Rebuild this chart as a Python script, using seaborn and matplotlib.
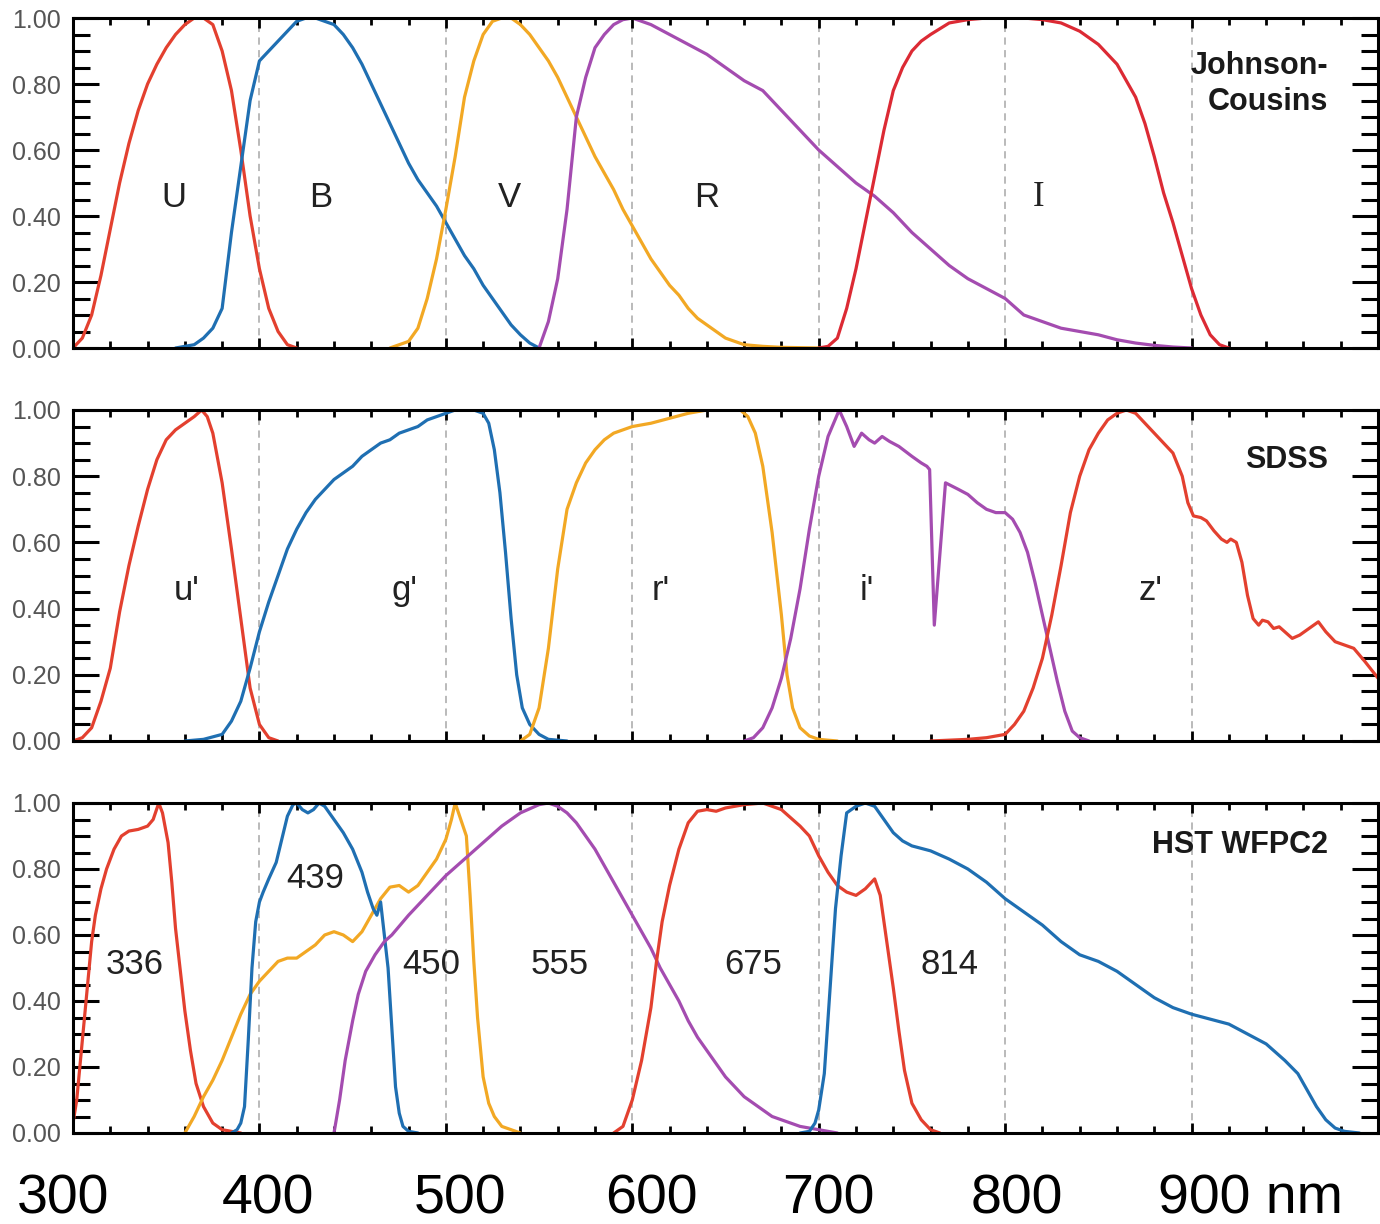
import matplotlib
matplotlib.use("Agg")
import matplotlib.pyplot as plt
import seaborn as sns
import pandas as pd
from matplotlib.ticker import MultipleLocator

# ---------------- Johnson-Cousins ----------------
U_WL = [300, 305, 310, 315, 320, 325, 330, 335, 340, 345, 350, 355, 360, 365, 370, 375,
        380, 385, 390, 395, 400, 405, 410, 415, 420]
U_TR = [0.0, 0.03, 0.10, 0.22, 0.36, 0.50, 0.62, 0.72, 0.80, 0.86, 0.91, 0.95, 0.98, 1.0, 1.0, 0.98,
        0.90, 0.78, 0.60, 0.40, 0.24, 0.12, 0.05, 0.01, 0.0]

B_WL = [355, 360, 365, 370, 375, 380, 385, 390, 395, 400, 405, 410, 415, 420, 425, 430, 435, 440,
        445, 450, 455, 460, 465, 470, 475, 480, 485, 490, 495, 500, 505, 510, 515, 520, 525, 530,
        535, 540, 545, 550]
B_TR = [0.0, 0.005, 0.01, 0.03, 0.06, 0.12, 0.35, 0.55, 0.75, 0.87, 0.90, 0.93, 0.96, 0.99, 1.0, 1.0,
        0.99, 0.98, 0.95, 0.91, 0.86, 0.80, 0.74, 0.68, 0.62, 0.56, 0.51, 0.47, 0.43, 0.38, 0.33, 0.28,
        0.24, 0.19, 0.15, 0.11, 0.07, 0.04, 0.015, 0.0]

V_WL = [470, 475, 480, 485, 490, 495, 500, 505, 510, 515, 520, 525, 530, 535, 540, 545, 550, 555,
        560, 565, 570, 575, 580, 585, 590, 595, 600, 605, 610, 615, 620, 625, 630, 635, 640, 645,
        650, 655, 660, 670, 680, 700]
V_TR = [0.0, 0.01, 0.02, 0.06, 0.15, 0.27, 0.42, 0.58, 0.76, 0.87, 0.95, 0.99, 1.0, 1.0, 0.98, 0.95,
        0.91, 0.87, 0.82, 0.76, 0.70, 0.64, 0.58, 0.53, 0.48, 0.42, 0.37, 0.32, 0.27, 0.23, 0.19, 0.16,
        0.12, 0.09, 0.07, 0.05, 0.03, 0.02, 0.01, 0.005, 0.002, 0.0]

R_WL = [550, 555, 560, 565, 570, 575, 580, 585, 590, 595, 600, 610, 620, 630, 640, 650, 660, 670,
        680, 690, 700, 710, 720, 730, 740, 750, 760, 770, 780, 790, 800, 810, 820, 830, 840, 850,
        860, 870, 880, 890, 900]
R_TR = [0.0, 0.08, 0.21, 0.42, 0.70, 0.82, 0.91, 0.95, 0.98, 0.995, 1.0, 0.98, 0.95, 0.92, 0.89, 0.85,
        0.81, 0.78, 0.72, 0.66, 0.60, 0.55, 0.50, 0.46, 0.41, 0.35, 0.30, 0.25, 0.21, 0.18, 0.15, 0.10,
        0.08, 0.06, 0.05, 0.04, 0.025, 0.015, 0.008, 0.003, 0.0]

I_WL = [700, 705, 710, 715, 720, 725, 730, 735, 740, 745, 750, 755, 760, 770, 780, 790, 800, 810,
        820, 830, 840, 850, 860, 865, 870, 875, 880, 885, 890, 895, 900, 905, 910, 915, 920]
I_TR = [0.0, 0.005, 0.03, 0.12, 0.24, 0.38, 0.52, 0.66, 0.78, 0.85, 0.90, 0.93, 0.95, 0.985, 0.995, 1.0,
        1.0, 1.0, 0.995, 0.985, 0.96, 0.92, 0.86, 0.81, 0.76, 0.68, 0.58, 0.47, 0.38, 0.28, 0.18, 0.10,
        0.04, 0.01, 0.0]

# ---------------- SDSS ----------------
UP_WL = [300, 305, 310, 315, 320, 325, 330, 335, 340, 345, 350, 355, 360, 365, 369, 372, 375, 380,
         385, 390, 395, 400, 405, 410]
UP_TR = [0.0, 0.01, 0.04, 0.12, 0.22, 0.39, 0.53, 0.65, 0.76, 0.85, 0.91, 0.94, 0.96, 0.98, 1.0, 0.98,
         0.93, 0.78, 0.58, 0.37, 0.16, 0.05, 0.01, 0.0]

GP_WL = [360, 370, 380, 385, 390, 395, 400, 405, 410, 415, 420, 425, 430, 435, 440, 445, 450, 455,
         460, 465, 470, 475, 480, 485, 490, 495, 500, 505, 510, 515, 520, 523, 526, 529, 532, 535,
         538, 541, 545, 550, 555, 565]
GP_TR = [0.0, 0.005, 0.02, 0.06, 0.12, 0.22, 0.33, 0.42, 0.50, 0.58, 0.64, 0.69, 0.73, 0.76, 0.79, 0.81,
         0.83, 0.86, 0.88, 0.90, 0.91, 0.93, 0.94, 0.95, 0.97, 0.98, 0.99, 1.0, 1.0, 1.0, 0.99, 0.96,
         0.88, 0.75, 0.57, 0.37, 0.20, 0.10, 0.05, 0.02, 0.005, 0.0]

RP_WL = [540, 545, 550, 555, 560, 565, 570, 575, 580, 585, 590, 595, 600, 610, 620, 630, 640, 650,
         658, 662, 666, 670, 675, 680, 683, 686, 690, 695, 700, 710]
RP_TR = [0.0, 0.02, 0.10, 0.28, 0.52, 0.70, 0.78, 0.84, 0.88, 0.91, 0.93, 0.94, 0.95, 0.96, 0.975, 0.99,
         1.0, 1.0, 1.0, 0.98, 0.93, 0.83, 0.63, 0.38, 0.20, 0.10, 0.04, 0.015, 0.005, 0.0]

IP_WL = [660, 665, 670, 675, 680, 685, 690, 695, 700, 705, 711, 715, 719, 723, 727, 730, 734, 738,
         743, 750, 755, 758, 759.5, 762, 768, 775, 780, 785, 790, 795, 800, 804, 808, 812, 816, 820,
         824, 828, 832, 836, 840, 845]
IP_TR = [0.0, 0.01, 0.04, 0.10, 0.19, 0.31, 0.46, 0.64, 0.80, 0.92, 1.0, 0.95, 0.89, 0.93, 0.91, 0.90,
         0.92, 0.905, 0.89, 0.86, 0.84, 0.83, 0.82, 0.35, 0.78, 0.76, 0.745, 0.72, 0.70, 0.69, 0.69,
         0.67, 0.63, 0.57, 0.48, 0.38, 0.28, 0.18, 0.09, 0.03, 0.01, 0.0]

ZP_WL = [760, 780, 790, 800, 805, 810, 815, 820, 825, 830, 835, 840, 845, 850, 855, 860, 865, 870,
         875, 880, 885, 890, 895, 898, 901, 905, 908, 912, 916, 919, 921, 924, 927, 930, 933, 936,
         938, 941, 944, 947, 950, 954, 958, 963, 968, 972, 977, 982, 987, 993, 1000]
ZP_TR = [0.0, 0.005, 0.01, 0.02, 0.05, 0.09, 0.16, 0.25, 0.38, 0.53, 0.69, 0.80, 0.88, 0.93, 0.97, 0.99,
         1.0, 0.99, 0.96, 0.93, 0.90, 0.87, 0.80, 0.72, 0.68, 0.675, 0.665, 0.635, 0.61, 0.60, 0.61,
         0.60, 0.54, 0.44, 0.37, 0.35, 0.365, 0.36, 0.34, 0.345, 0.33, 0.31, 0.32, 0.34, 0.36, 0.33,
         0.30, 0.29, 0.28, 0.24, 0.19]

# ---------------- HST WFPC2 ----------------
F336_WL = [300, 302, 304, 306, 308, 310, 312, 315, 318, 322, 326, 330, 335, 340, 343, 346, 348, 351,
           353, 355, 358, 360, 363, 366, 370, 375, 380, 390]
F336_TR = [0.03, 0.10, 0.22, 0.34, 0.46, 0.58, 0.66, 0.74, 0.80, 0.86, 0.90, 0.915, 0.92, 0.93, 0.95,
           1.0, 0.97, 0.88, 0.76, 0.62, 0.47, 0.37, 0.25, 0.15, 0.08, 0.03, 0.01, 0.0]

F439_WL = [385, 388, 390, 392, 394, 396, 398, 400, 402, 405, 409, 412, 415, 418, 420, 423, 426, 429,
           432, 435, 440, 445, 450, 455, 458, 461, 463, 465, 467, 469, 471, 473, 475, 477, 480, 485]
F439_TR = [0.0, 0.01, 0.03, 0.08, 0.28, 0.50, 0.64, 0.70, 0.73, 0.77, 0.82, 0.89, 0.96, 0.995, 1.0,
           0.98, 0.97, 0.98, 1.0, 0.99, 0.95, 0.91, 0.86, 0.79, 0.73, 0.68, 0.66, 0.70, 0.60, 0.50,
           0.32, 0.14, 0.06, 0.02, 0.005, 0.0]

F450_WL = [360, 365, 370, 375, 380, 385, 390, 395, 400, 405, 410, 415, 420, 425, 430, 435, 440, 445,
           450, 455, 460, 465, 470, 475, 480, 485, 490, 495, 500, 503, 505, 508, 511, 513, 515, 517,
           520, 523, 526, 530, 535, 540]
F450_TR = [0.0, 0.05, 0.11, 0.16, 0.22, 0.29, 0.36, 0.42, 0.46, 0.49, 0.52, 0.53, 0.53, 0.55, 0.57,
           0.60, 0.61, 0.60, 0.58, 0.61, 0.66, 0.71, 0.745, 0.75, 0.73, 0.75, 0.79, 0.83, 0.89, 0.95,
           1.0, 0.95, 0.90, 0.72, 0.52, 0.35, 0.17, 0.09, 0.05, 0.02, 0.01, 0.0]

F555_WL = [440, 443, 446, 450, 453, 457, 462, 467, 471, 480, 490, 500, 510, 520, 530, 540, 550, 555,
           560, 565, 570, 575, 580, 585, 590, 595, 600, 605, 610, 615, 620, 625, 630, 635, 640, 645,
           650, 655, 660, 665, 670, 675, 680, 690, 700, 710]
F555_TR = [0.0, 0.10, 0.22, 0.34, 0.42, 0.49, 0.54, 0.58, 0.60, 0.66, 0.72, 0.78, 0.83, 0.88, 0.93,
           0.97, 0.995, 1.0, 0.99, 0.97, 0.94, 0.90, 0.86, 0.81, 0.76, 0.71, 0.66, 0.61, 0.56, 0.50,
           0.45, 0.40, 0.34, 0.29, 0.25, 0.21, 0.17, 0.14, 0.11, 0.09, 0.07, 0.05, 0.04, 0.02, 0.01, 0.0]

F675_WL = [590, 595, 600, 605, 610, 613, 616, 620, 625, 630, 635, 640, 645, 650, 660, 670, 675, 680,
           685, 690, 695, 700, 705, 710, 715, 720, 725, 730, 733, 736, 740, 743, 746, 750, 755, 760, 765]
F675_TR = [0.0, 0.02, 0.10, 0.22, 0.38, 0.52, 0.64, 0.75, 0.86, 0.94, 0.975, 0.98, 0.975, 0.985, 0.995,
           1.0, 0.99, 0.98, 0.955, 0.93, 0.90, 0.84, 0.79, 0.75, 0.73, 0.72, 0.74, 0.77, 0.72, 0.60,
           0.44, 0.31, 0.19, 0.09, 0.04, 0.01, 0.0]

F814_WL = [690, 695, 698, 700, 703, 706, 709, 712, 715, 720, 725, 730, 735, 740, 745, 750, 760, 770,
           780, 790, 800, 810, 820, 830, 840, 850, 860, 870, 880, 890, 900, 910, 920, 930, 940, 950,
           957, 962, 967, 972, 977, 982, 990]
F814_TR = [0.0, 0.005, 0.03, 0.07, 0.18, 0.43, 0.68, 0.84, 0.97, 0.99, 1.0, 0.99, 0.95, 0.91, 0.885,
           0.87, 0.855, 0.83, 0.80, 0.76, 0.71, 0.67, 0.63, 0.58, 0.54, 0.52, 0.49, 0.45, 0.41, 0.38,
           0.36, 0.345, 0.33, 0.30, 0.27, 0.22, 0.18, 0.13, 0.08, 0.04, 0.015, 0.005, 0.0]

# Band labels: (text, wavelength, height)
JC_LABELS = [("U", 354, 0.455), ("B", 433, 0.455), ("V", 534, 0.455), ("R", 640, 0.455), ("I", 818, 0.455)]
SDSS_LABELS = [("u'", 361, 0.456), ("g'", 478, 0.456), ("r'", 615, 0.456), ("i'", 726, 0.456), ("z'", 878, 0.456)]
HST_LABELS = [("336", 333, 0.51), ("439", 430, 0.77), ("450", 492, 0.51), ("555", 561, 0.51),
              ("675", 665, 0.51), ("814", 770, 0.51)]

TITLES = ["Johnson-\nCousins", "SDSS", "HST WFPC2"]
Y_TICKS = [0.0, 0.2, 0.4, 0.6, 0.8, 1.0]
Y_TICK_LABELS = ["0.00", "0.20", "0.40", "0.60", "0.80", "1.00"]
X_LABELS = ["300", "400", "500", "600", "700", "800", "900 nm"]
X_LABEL_POS = [63, 268, 460, 651, 828, 1017, 1158]

RED = "#e3402f"
RED_I = "#dc2a34"
BLUE = "#1f6fb2"
ORANGE = "#f2a824"
PURPLE = "#a44cb0"

PANELS = [
    [(U_WL, U_TR, RED), (B_WL, B_TR, BLUE), (V_WL, V_TR, ORANGE), (R_WL, R_TR, PURPLE), (I_WL, I_TR, RED_I)],
    [(UP_WL, UP_TR, RED), (GP_WL, GP_TR, BLUE), (RP_WL, RP_TR, ORANGE), (IP_WL, IP_TR, PURPLE),
     (ZP_WL, ZP_TR, RED)],
    [(F336_WL, F336_TR, RED), (F450_WL, F450_TR, ORANGE), (F439_WL, F439_TR, BLUE),
     (F555_WL, F555_TR, PURPLE), (F675_WL, F675_TR, RED), (F814_WL, F814_TR, BLUE)],
]
LABELS = [JC_LABELS, SDSS_LABELS, HST_LABELS]
TITLE_Y = [0.80, 0.85, 0.873]

sns.set_theme(style="white")
plt.rcParams['font.family'] = ['Liberation Sans', 'DejaVu Sans']

W, H = 1380, 1224
fig = plt.figure(figsize=(W / 100, H / 100), dpi=100)

panel_px = [(18, 348), (410, 741), (803, 1133)]
left_px, right_px = 73, 1378

for k, (top, bot) in enumerate(panel_px):
    ax = fig.add_axes([left_px / W, 1 - bot / H, (right_px - left_px) / W, (bot - top) / H])
    ax.set_xlim(300, 1000)
    ax.set_ylim(0, 1)

    for xv in range(400, 1000, 100):
        ax.axvline(xv, color="#b4b4b4", lw=1.3, ls=(0, (4, 3)), zorder=0)

    for wl, tr, col in PANELS[k]:
        df = pd.DataFrame({"wavelength": wl, "transmission": tr})
        sns.lineplot(data=df, x="wavelength", y="transmission", ax=ax, color=col,
                     linewidth=2.3, estimator=None, sort=False)

    ax.set_xlabel("")
    ax.set_ylabel("")

    for txt, xv, yv in LABELS[k]:
        fam = ['Liberation Serif'] if txt == "I" else ['Liberation Sans', 'DejaVu Sans']
        ax.text(xv, yv, txt, ha="center", va="center", fontsize=25, color="#222222", family=fam)

    ax.text(0.962, TITLE_Y[k], TITLES[k], transform=ax.transAxes, ha="right", va="center",
            multialignment="right", fontsize=22, fontweight="bold", color="#1a1a1a",
            linespacing=1.25)

    ax.xaxis.set_major_locator(MultipleLocator(100))
    ax.xaxis.set_minor_locator(MultipleLocator(20))
    ax.set_yticks(Y_TICKS)
    ax.set_yticklabels(Y_TICK_LABELS)
    ax.yaxis.set_minor_locator(MultipleLocator(0.05))

    ax.tick_params(axis="x", which="both", direction="in", top=True, bottom=True,
                   labelbottom=False, width=2, color="black")
    ax.tick_params(axis="x", which="major", length=7)
    ax.tick_params(axis="x", which="minor", length=5)
    ax.tick_params(axis="y", which="both", direction="in", left=True, right=True,
                   width=2.2, color="black")
    ax.tick_params(axis="y", which="major", length=19, labelsize=18, labelcolor="#555555", pad=9)
    ax.tick_params(axis="y", which="minor", length=12)

    for sp in ax.spines.values():
        sp.set_linewidth(2.2)
        sp.set_color("black")

for lab, xp in zip(X_LABELS, X_LABEL_POS):
    ha = "left" if lab.endswith("nm") else "center"
    fig.text(xp / W, 1 - 1199 / H, lab, ha=ha, va="center", fontsize=40,
             family=['Liberation Sans', 'DejaVu Sans'], color="black")

fig.savefig("out.png", dpi=100, facecolor="white")
